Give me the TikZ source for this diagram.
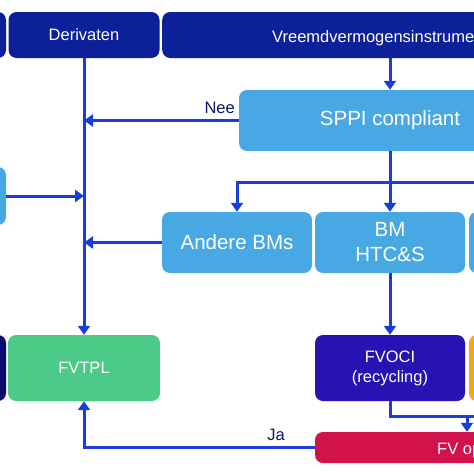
\documentclass[tikz,border=0pt]{standalone}
\usepackage{fontspec}
\setmainfont{Liberation Sans}
\usetikzlibrary{arrows.meta,calc}
\definecolor{navy}{RGB}{12,33,153}
\definecolor{darknavy}{RGB}{10,10,110}
\definecolor{lblue}{RGB}{72,168,228}
\definecolor{fgreen}{RGB}{75,203,135}
\definecolor{indigo}{RGB}{40,18,180}
\definecolor{forange}{RGB}{245,165,30}
\definecolor{crimson}{RGB}{210,18,75}
\definecolor{linec}{RGB}{25,60,220}
\definecolor{labc}{RGB}{10,25,110}
\tikzset{
  box/.style={rounded corners=8pt, inner sep=0pt, text=white, align=center, font=\fontsize{16.5}{20}\selectfont},
  topbox/.style={box, fill=navy, minimum height=46pt},
  midbox/.style={box, fill=lblue, minimum height=61pt, font=\fontsize{20.5}{25}\selectfont},
  resbox/.style={box, minimum height=66pt, minimum width=150pt},
  conn/.style={draw=linec, line width=3pt},
  arr/.style={conn, -{Triangle[width=12pt,length=9pt]}},
  lab/.style={text=labc, font=\fontsize{16.5}{20}\selectfont, inner sep=0pt}
}
\begin{document}
\begin{tikzpicture}[x=1pt,y=-1pt]
\useasboundingbox (0,0) rectangle (474,474);
% top row
\node[topbox, minimum width=156pt] (l1) at (-72,35) {};
\node[topbox, minimum width=151pt] (deriv) at (84,35) {Derivaten};
\node[topbox, minimum width=478pt, anchor=west] (vreemd) at (162,35) {};
\node[lab, text=white, anchor=base west] (vreemdtxt) at (272,42) {Vreemdvermogensinstrume};
% SPPI
\node[midbox, minimum width=302pt] (sppi) at (390,120.5) {SPPI compliant};
% left middle
\node[box, fill=lblue, minimum width=156pt, minimum height=58pt] (l2) at (-72,196) {};
% business models
\node[midbox, minimum width=150pt] (andere) at (237,242.5) {Andere BMs};
\node[midbox, minimum width=150pt] (bm) at (390,242.5) {BM\\HTC\&S};
\node[midbox, minimum width=150pt] (r2) at (544,242.5) {};
% results
\node[resbox, fill=darknavy, minimum width=156pt] (l3) at (-72,368) {};
\node[resbox, fill=fgreen, minimum width=152pt] (fvtpl) at (84,368) {FVTPL};
\node[resbox, fill=indigo] (fvoci) at (390,368) {FVOCI\\(recycling)};
\node[resbox, fill=forange] (r3) at (544,368) {};
\node[box, fill=crimson, minimum width=304pt, minimum height=31pt] (fv) at (467,447.5) {};
\node[lab, text=white, anchor=base west] (fvtxt) at (437,454) {FV op};
% connectors
\draw[arr] (deriv.south) -- (fvtpl.north);
\draw[arr] (sppi.west) -- (sppi.west -| deriv.south);
\node[lab, anchor=base east] (nee) at (235,113) {Nee};
\draw[arr] (l2.east) -- (l2.east -| deriv.south);
\draw[arr] (andere.west) -- (andere.west -| deriv.south);
\draw[arr] (sppi.north |- vreemd.south) -- (sppi.north);
\coordinate (split) at ($(sppi.south)+(0,31)$);
\draw[conn] (sppi.south) -- (split);
\draw[arr] (split) -| (andere.north);
\draw[arr] (split) -- (bm.north);
\draw[arr] (split) -| (r2.north);
\draw[arr] (bm.south) -- (fvoci.north);
\coordinate (join) at ($(fvoci.south)+(0,15)$);
\draw[arr] (fvoci.south) -- (join) -| (fv.north);
\draw[conn] (r3.south) |- (fv.north |- join);
\draw[arr] (fv.west) -| (fvtpl.south);
\node[lab, anchor=base] (ja) at (276,440) {Ja};
\end{tikzpicture}
\end{document}
